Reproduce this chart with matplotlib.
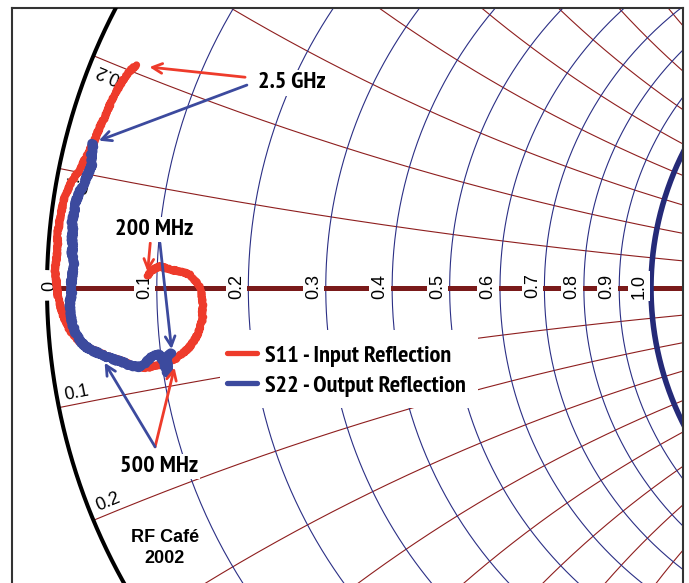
import numpy as np
import matplotlib
matplotlib.use("Agg")
import matplotlib.pyplot as plt
from matplotlib.patches import Rectangle

# Measured reflection coefficients (real / imaginary), 200 MHz -> 2.5 GHz
s11_re = [-0.834, -0.829, -0.821, -0.813, -0.803, -0.793, -0.783, -0.773, -0.765, -0.757,
          -0.750, -0.745, -0.743, -0.742, -0.743, -0.742, -0.747, -0.750, -0.757, -0.765,
          -0.775, -0.785, -0.796, -0.808, -0.821, -0.834, -0.846, -0.858, -0.869, -0.881,
          -0.892, -0.904, -0.916, -0.927, -0.937, -0.947, -0.955, -0.962, -0.969, -0.974,
          -0.978, -0.982, -0.983, -0.985, -0.987, -0.985, -0.983, -0.982, -0.983, -0.980,
          -0.978, -0.975, -0.972, -0.967, -0.962, -0.954, -0.945, -0.939, -0.932, -0.927,
          -0.921, -0.916, -0.911, -0.904, -0.899, -0.894, -0.887, -0.881, -0.873, -0.864,
          -0.858, -0.851]
s11_im = [0.020, 0.026, 0.033, 0.036, 0.033, 0.030, 0.028, 0.026, 0.023, 0.015,
          0.007, -0.005, -0.017, -0.028, -0.040, -0.051, -0.065, -0.076, -0.088, -0.099,
          -0.108, -0.116, -0.121, -0.126, -0.129, -0.132, -0.131, -0.129, -0.124, -0.119,
          -0.116, -0.111, -0.106, -0.101, -0.096, -0.088, -0.079, -0.070, -0.056, -0.043,
          -0.030, -0.015, 0.000, 0.015, 0.030, 0.045, 0.060, 0.075, 0.089, 0.104,
          0.119, 0.132, 0.146, 0.159, 0.171, 0.184, 0.195, 0.209, 0.222, 0.233,
          0.245, 0.258, 0.270, 0.283, 0.295, 0.308, 0.320, 0.333, 0.346, 0.358,
          0.364, 0.368]

s22_re = [-0.793, -0.803, -0.800, -0.801, -0.806, -0.816, -0.826, -0.836, -0.848, -0.861,
          -0.874, -0.887, -0.901, -0.914, -0.927, -0.937, -0.945, -0.952, -0.957, -0.960,
          -0.962, -0.962, -0.959, -0.960, -0.959, -0.957, -0.955, -0.959, -0.957, -0.959,
          -0.957, -0.959, -0.955, -0.954, -0.950, -0.945, -0.939, -0.934, -0.929, -0.925,
          -0.927, -0.924, -0.925]
s22_im = [-0.108, -0.113, -0.126, -0.141, -0.123, -0.109, -0.114, -0.123, -0.131, -0.129,
          -0.123, -0.119, -0.114, -0.108, -0.103, -0.096, -0.088, -0.076, -0.063, -0.050,
          -0.036, -0.023, -0.010, 0.003, 0.017, 0.030, 0.043, 0.056, 0.070, 0.083,
          0.096, 0.109, 0.123, 0.136, 0.149, 0.161, 0.172, 0.184, 0.195, 0.207,
          0.219, 0.230, 0.240]

# Smith chart grid
r_grid = [0.1, 0.2, 0.3, 0.4, 0.5, 0.6, 0.7, 0.8, 0.9, 1.0, 1.2, 1.4, 1.6, 1.8, 2.0, 3.0, 4.0, 5.0, 10.0, 20.0]
x_grid = [0.1, 0.2, 0.3, 0.4, 0.5, 0.6, 0.7, 0.8, 0.9, 1.0, 1.2, 1.4, 1.6, 1.8, 2.0, 3.0, 4.0, 5.0, 10.0, 20.0]
r_ticks = [0.0, 0.1, 0.2, 0.3, 0.4, 0.5, 0.6, 0.7, 0.8, 0.9, 1.0]
r_tick_labels = ["0", "0.1", "0.2", "0.3", "0.4", "0.5", "0.6", "0.7", "0.8", "0.9", "1.0"]
x_ticks = [0.1, 0.2]
x_tick_labels = ["0.1", "0.2"]

RED = "#EE3B2B"
BLUE = "#3C4A9E"
NAVY = "#2B2F85"
GRID_RED = "#8E1E1E"
AXIS_RED = "#7A1A1A"
PX = 604.0  # pixels per unit of reflection coefficient

COND = ["PT Sans Narrow", "Roboto Condensed", "DejaVu Sans"]
SANS = ["Liberation Sans", "DejaVu Sans"]
BIG = 17.5

fig = plt.figure(figsize=(6.89, 5.83), dpi=100)
ax = fig.add_axes([12 / 689, 0, 671 / 689, 575 / 583])
ax.set_xlim(-1.0579, 0.05298)
ax.set_ylim(-0.4884, 0.4636)
ax.set_xticks([])
ax.set_yticks([])
for side in ("left", "top", "right"):
    ax.spines[side].set_color("#333333")
    ax.spines[side].set_linewidth(1.5)
ax.spines["bottom"].set_visible(False)


def gamma(z):
    return (z - 1) / (z + 1)


# constant-resistance circles
xs = np.sinh(np.linspace(-9, 9, 4000))
for r in r_grid:
    g = gamma(r + 1j * xs)
    ax.plot(g.real, g.imag, color=NAVY, lw=0.8, zorder=1.2)
g = gamma(1.0 + 1j * xs)
ax.plot(g.real, g.imag, color="#252A78", lw=4.0, zorder=2.5)

# constant-reactance arcs
rs = np.concatenate([[0.0], np.logspace(-3, 4, 3000)])
for xv in x_grid:
    for s in (1, -1):
        g = gamma(rs + 1j * s * xv)
        ax.plot(g.real, g.imag, color=GRID_RED, lw=0.8, zorder=1.1)

# real axis
ax.plot([-0.987, 0.06], [0, 0], color=AXIS_RED, lw=3.6, zorder=2, solid_capstyle="butt")

# outer boundary |gamma| = 1, opened where the "0" label sits
for a0, a1 in ((90, 178.3), (181.2, 270)):
    th = np.radians(np.linspace(a0, a1, 800))
    ax.plot(np.cos(th), np.sin(th), color="black", lw=2.9, zorder=3, solid_capstyle="butt")

# resistance labels along the real axis
for rv, lab in zip(r_ticks, r_tick_labels):
    gx = gamma(rv) - (12 / PX if rv > 0 else -3 / PX)
    ax.text(gx, 2 / PX, lab, rotation=90, ha="center", va="center", rotation_mode="anchor",
            fontsize=13, family=SANS, color="black", zorder=3.2,
            bbox=dict(boxstyle="square,pad=0.12", fc="white", ec="none"))

# reactance labels just inside the boundary
for xv, lab in zip(x_ticks, x_tick_labels):
    for s in (1, -1):
        g0 = gamma(1j * s * xv)
        u = -g0 / abs(g0)
        ang = np.degrees(np.angle(u))
        if s < 0:
            n = u * 1j
            rot = ang
        else:
            n = u * -1j
            rot = ang + 180
        p = g0 + (20 * u + 11 * n) / PX
        ax.text(p.real, p.imag, lab, rotation=rot, ha="center", va="center",
                rotation_mode="anchor", fontsize=13, family=SANS, color="black", zorder=3.2)

# legend backdrop
ax.add_patch(Rectangle((-0.7136, -0.1987), 0.4272, 0.1292, fc="white", ec="none", zorder=3.5))

# traces (rough pen stroke like a plotter trace)
l11, = ax.plot(s11_re, s11_im, color=RED, lw=5.2, zorder=5,
               solid_joinstyle="round", solid_capstyle="round")
l22, = ax.plot(s22_re, s22_im, color=BLUE, lw=6.2, zorder=5.2,
               solid_joinstyle="round", solid_capstyle="round")
l11.set_sketch_params(scale=1.0, length=3.0, randomness=2.0)
l22.set_sketch_params(scale=1.3, length=3.0, randomness=2.0)

# frequency call-outs
lab_kw = dict(fontsize=BIG, fontweight="bold", family=COND, color="black", zorder=7,
              bbox=dict(boxstyle="square,pad=0.1", fc="white", ec="none"))
ax.text(-0.651, 0.331, "2.5 GHz", ha="left", va="baseline", **lab_kw)
ax.text(-0.823, 0.0877, "200 MHz", ha="center", va="baseline", **lab_kw)
ax.text(-0.815, -0.3046, "500 MHz", ha="center", va="baseline", **lab_kw)


def arrow(tip, start, color, shrink):
    ax.annotate("", xy=tip, xytext=start, zorder=6,
                arrowprops=dict(arrowstyle="->,head_length=0.7,head_width=0.35", color=color,
                                lw=2.0, shrinkA=0, shrinkB=shrink))


arrow((s11_re[-1], s11_im[-1]), (-0.672, 0.349), RED, 9)
arrow((s22_re[-1], s22_im[-1]), (-0.669, 0.336), BLUE, 5)
arrow((s11_re[0], s11_im[0]), (-0.829, 0.0745), RED, 3)
arrow((s22_re[0], s22_im[0]), (-0.813, 0.0745), BLUE, 3)
arrow((s11_re[21], s11_im[21]), (-0.821, -0.263), RED, 7)
arrow((s22_re[13], s22_im[13]), (-0.821, -0.263), BLUE, 8)

# legend
ax.plot([-0.702, -0.652], [-0.1076, -0.1076], color=RED, lw=3.8, solid_capstyle="round", zorder=6)
ax.plot([-0.702, -0.652], [-0.1573, -0.1573], color=BLUE, lw=3.8, solid_capstyle="round", zorder=6)
ax.text(-0.639, -0.1225, "S11 - Input Reflection", ha="left", va="baseline",
        fontsize=BIG, fontweight="bold", family=COND, zorder=7)
ax.text(-0.639, -0.172, "S22 - Output Reflection", ha="left", va="baseline",
        fontsize=BIG, fontweight="bold", family=COND, zorder=7)

# credit
ax.text(-0.8046, -0.4205, "RF Café", ha="center", va="baseline", fontsize=13,
        fontweight="bold", family=SANS, zorder=7)
ax.text(-0.8046, -0.4553, "2002", ha="center", va="baseline", fontsize=13,
        fontweight="bold", family=SANS, zorder=7)

fig.savefig("out.png", dpi=100)
